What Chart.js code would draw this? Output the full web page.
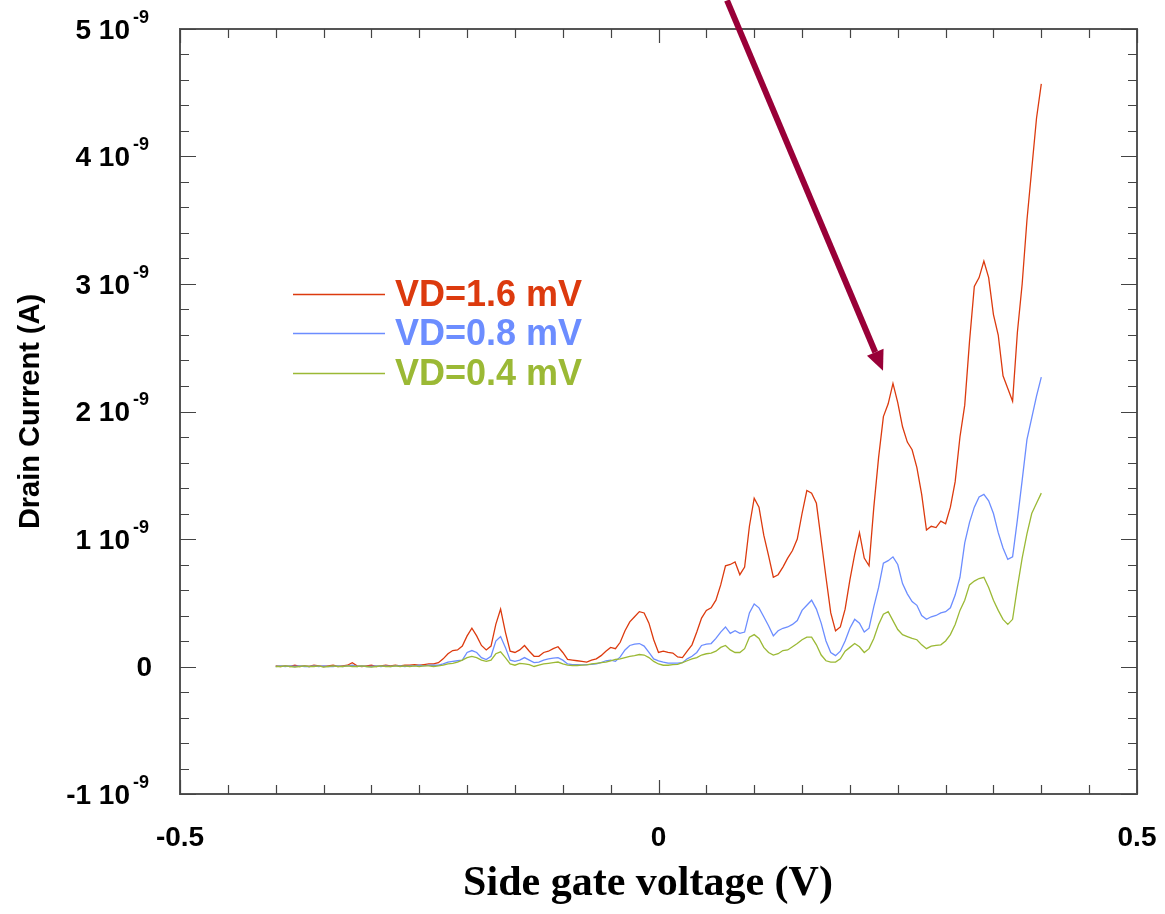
<!DOCTYPE html>
<html>
<head>
<meta charset="utf-8">
<script src="https://cdn.jsdelivr.net/npm/chart.js"></script>
<style>
    body { margin: 0; background: #ffffff; }
    #wrap { width: 1165px; height: 914px; }
</style>
</head>
<body>
<div id="wrap"><canvas id="drainChart" width="1165" height="914"></canvas></div>
<script>
// Side gate voltage (V), sweep from -0.4 to 0.4 V
const gateVoltage = [
    -0.400, -0.395, -0.390, -0.385, -0.380, -0.375, -0.370, -0.365, -0.360, -0.355,
    -0.350, -0.345, -0.340, -0.335, -0.330, -0.325, -0.320, -0.315, -0.310, -0.305,
    -0.300, -0.295, -0.290, -0.285, -0.280, -0.275, -0.270, -0.265, -0.260, -0.255,
    -0.250, -0.245, -0.240, -0.235, -0.230, -0.225, -0.220, -0.215, -0.210, -0.205,
    -0.200, -0.195, -0.190, -0.185, -0.180, -0.175, -0.170, -0.165, -0.160, -0.155,
    -0.150, -0.145, -0.140, -0.135, -0.130, -0.125, -0.120, -0.115, -0.110, -0.105,
    -0.100, -0.095, -0.090, -0.085, -0.080, -0.075, -0.070, -0.065, -0.060, -0.055,
    -0.050, -0.045, -0.040, -0.035, -0.030, -0.025, -0.020, -0.015, -0.010, -0.005,
    0.000, 0.005, 0.010, 0.015, 0.020, 0.025, 0.030, 0.035, 0.040, 0.045,
    0.050, 0.055, 0.060, 0.065, 0.070, 0.075, 0.080, 0.085, 0.090, 0.095,
    0.100, 0.105, 0.110, 0.115, 0.120, 0.125, 0.130, 0.135, 0.140, 0.145,
    0.150, 0.155, 0.160, 0.165, 0.170, 0.175, 0.180, 0.185, 0.190, 0.195,
    0.200, 0.205, 0.210, 0.215, 0.220, 0.225, 0.230, 0.235, 0.240, 0.245,
    0.250, 0.255, 0.260, 0.265, 0.270, 0.275, 0.280, 0.285, 0.290, 0.295,
    0.300, 0.305, 0.310, 0.315, 0.320, 0.325, 0.330, 0.335, 0.340, 0.345,
    0.350, 0.355, 0.360, 0.365, 0.370, 0.375, 0.380, 0.385, 0.390, 0.395,
    0.400
];

// Drain current, in units of 1e-9 A
const currentVD16 = [
    0.005, 0, 0.005, 0, 0.01, 0, 0.005, 0, 0.01, 0.005,
    0, 0.005, 0.01, 0, 0.005, 0.01, 0.03, 0.005, 0, 0.005,
    0.01, 0, 0.005, 0.01, 0.005, 0.01, 0.005, 0.01, 0.01, 0.015,
    0.01, 0.015, 0.02, 0.02,
    0.03, 0.06, 0.10, 0.125, 0.13, 0.16, 0.24, 0.30, 0.24, 0.165,
    0.13, 0.16, 0.33, 0.45, 0.27, 0.12, 0.11, 0.13, 0.165, 0.12,
    0.08, 0.08, 0.11, 0.12, 0.14, 0.155, 0.11, 0.055, 0.05, 0.045,
    0.04, 0.035, 0.05, 0.06, 0.085, 0.12, 0.15, 0.14, 0.19, 0.28,
    0.35, 0.39, 0.43, 0.42, 0.34, 0.21,
    0.11, 0.12, 0.11, 0.105, 0.075, 0.07, 0.12, 0.17, 0.27, 0.38,
    0.44, 0.46, 0.52, 0.64, 0.79, 0.80, 0.82, 0.72, 0.78, 1.10,
    1.32, 1.25, 1.03, 0.87, 0.70, 0.72, 0.78, 0.85, 0.91, 1.00,
    1.20, 1.38, 1.36, 1.28, 0.99, 0.70, 0.42, 0.28, 0.31, 0.45,
    0.68, 0.88, 1.05, 0.85, 0.79, 1.25, 1.64, 1.96, 2.06, 2.22,
    2.07, 1.88, 1.76, 1.70, 1.56, 1.35, 1.07, 1.10, 1.09, 1.14,
    1.12, 1.25, 1.45, 1.80, 2.05, 2.55, 2.98, 3.05, 3.18, 3.05,
    2.76, 2.60, 2.28, 2.18, 2.08, 2.62, 3.00, 3.50, 3.90, 4.30,
    4.57
];

const currentVD08 = [
    0, 0.005, 0, 0.005, 0, 0.005, 0, 0, 0.005, 0,
    0.005, 0, 0, 0.005, 0, 0.005, 0.01, 0, 0.005, 0,
    0, 0.005, 0, 0.005, 0, 0.005, 0.005, 0, 0.005, 0.005,
    0.01, 0.005, 0.01, 0.01,
    0.01, 0.02, 0.035, 0.04, 0.045, 0.05, 0.11, 0.125, 0.11, 0.07,
    0.055, 0.08, 0.20, 0.235, 0.15, 0.05, 0.04, 0.05, 0.07, 0.05,
    0.03, 0.035, 0.05, 0.06, 0.065, 0.07, 0.05, 0.02, 0.015, 0.015,
    0.013, 0.015, 0.016, 0.02, 0.03, 0.045, 0.05, 0.04, 0.075, 0.13,
    0.165, 0.175, 0.18, 0.16, 0.11, 0.06,
    0.045, 0.035, 0.026, 0.026, 0.026, 0.03, 0.06, 0.08, 0.11, 0.165,
    0.175, 0.18, 0.22, 0.27, 0.31, 0.26, 0.28, 0.26, 0.27, 0.42,
    0.49, 0.46, 0.39, 0.32, 0.24, 0.28, 0.30, 0.31, 0.33, 0.36,
    0.44, 0.48, 0.52, 0.45, 0.34, 0.20, 0.11, 0.085, 0.12, 0.20,
    0.30, 0.37, 0.34, 0.27, 0.30, 0.47, 0.62, 0.81, 0.83, 0.86,
    0.80, 0.65, 0.57, 0.51, 0.48, 0.40, 0.37, 0.39, 0.40, 0.42,
    0.43, 0.46, 0.56, 0.70, 0.97, 1.13, 1.25, 1.33, 1.35, 1.30,
    1.20, 1.05, 0.93, 0.84, 0.86, 1.15, 1.46, 1.78, 1.95, 2.12,
    2.27
];

const currentVD04 = [
    0, 0, 0.005, 0, -0.005, 0, 0.005, 0, 0, 0.005,
    -0.005, 0, 0.005, 0, 0, 0.005, 0, 0, 0.005, 0,
    -0.005, 0, 0.005, 0, 0, 0.005, 0, 0.005, 0, 0.005,
    0, 0.005, 0.005, 0,
    0.005, 0.01, 0.02, 0.025, 0.035, 0.05, 0.07, 0.08, 0.07, 0.05,
    0.04, 0.05, 0.10, 0.115, 0.07, 0.02, 0.01, 0.025, 0.02, 0.015,
    0, 0.01, 0.02, 0.025, 0.03, 0.035, 0.02, 0.01, 0.008, 0.008,
    0.01, 0.012, 0.02, 0.025, 0.03, 0.035, 0.045, 0.055, 0.06, 0.07,
    0.08, 0.085, 0.094, 0.09, 0.07, 0.04,
    0.02, 0.01, 0.01, 0.015, 0.016, 0.03, 0.045, 0.06, 0.07, 0.09,
    0.10, 0.105, 0.12, 0.15, 0.165, 0.13, 0.11, 0.11, 0.14, 0.23,
    0.25, 0.22, 0.15, 0.11, 0.09, 0.10, 0.125, 0.13, 0.155, 0.18,
    0.21, 0.23, 0.23, 0.17, 0.09, 0.045, 0.035, 0.035, 0.06, 0.12,
    0.15, 0.18, 0.155, 0.11, 0.14, 0.22, 0.33, 0.41, 0.43, 0.36,
    0.29, 0.25, 0.235, 0.22, 0.21, 0.17, 0.14, 0.16, 0.165, 0.17,
    0.20, 0.25, 0.33, 0.44, 0.52, 0.64, 0.67, 0.69, 0.70, 0.62,
    0.52, 0.44, 0.37, 0.33, 0.37, 0.62, 0.85, 1.04, 1.20, 1.28,
    1.36
];

const seriesNames = ['VD=1.6 mV', 'VD=0.8 mV', 'VD=0.4 mV'];
const seriesColors = ['#dc3a0e', '#6c8dff', '#9bb935'];

const xTickLabels = [-0.5, 0, 0.5];
const yTickLabels = [-1, 0, 1, 2, 3, 4, 5];   // times 10^-9

// annotation arrow, in data units (tail, head)
const arrowFrom = { x: 0.0716, y: 5.224 };
const arrowTo = { x: 0.2346, y: 2.32 };

const toPoints = ys => gateVoltage.map((x, i) => ({ x, y: ys[i] }));

const sansBold = (px) => `bold ${px}px "Liberation Sans", Arial, sans-serif`;

const decorPlugin = {
    id: 'decor',
    afterDatasetsDraw(chart) {
        const ctx = chart.ctx;
        const { left, right, top, bottom } = chart.chartArea;
        const xs = chart.scales.x;
        const ys = chart.scales.y;
        ctx.save();

        // frame
        ctx.strokeStyle = '#555';
        ctx.lineWidth = 2;
        ctx.strokeRect(left, top, right - left, bottom - top);

        // ticks pointing inward
        ctx.lineWidth = 1.2;
        ctx.strokeStyle = '#444';
        for (let i = 0; i <= 20; i++) {
            const v = -0.5 + i * 0.05;
            const px = Math.round(xs.getPixelForValue(v)) + 0.5;
            const len = (i % 10 === 0) ? 14 : 9;
            ctx.beginPath();
            ctx.moveTo(px, bottom); ctx.lineTo(px, bottom - len);
            ctx.moveTo(px, top); ctx.lineTo(px, top + len);
            ctx.stroke();
        }
        for (let i = 0; i <= 30; i++) {
            const v = -1 + i * 0.2;
            const py = Math.round(ys.getPixelForValue(v)) + 0.5;
            const len = (i % 5 === 0) ? 16 : 9;
            ctx.beginPath();
            ctx.moveTo(left, py); ctx.lineTo(left + len, py);
            ctx.moveTo(right, py); ctx.lineTo(right - len, py);
            ctx.stroke();
        }

        // tick labels
        ctx.fillStyle = '#000';
        ctx.textBaseline = 'middle';
        ctx.font = sansBold(28);
        ctx.textAlign = 'center';
        xTickLabels.forEach(v => {
            ctx.fillText(String(v), xs.getPixelForValue(v), bottom + 44);
        });
        yTickLabels.forEach(v => {
            const py = ys.getPixelForValue(v);
            ctx.font = sansBold(28);
            ctx.textAlign = 'right';
            if (v === 0) {
                ctx.fillText('0', left - 28, py + 2);
                return;
            }
            ctx.fillText(v + ' 10', left - 50, py + 2);
            ctx.font = sansBold(18);
            ctx.textAlign = 'left';
            ctx.fillText('-9', left - 47, py - 11);
        });

        // axis titles
        ctx.font = sansBold(29);
        ctx.textAlign = 'center';
        ctx.save();
        ctx.translate(31, (top + bottom) / 2);
        ctx.rotate(-Math.PI / 2);
        ctx.fillText('Drain Current (A)', 0, 0);
        ctx.restore();
        ctx.font = 'bold 42px "Liberation Serif", "Times New Roman", serif';
        ctx.fillText('Side gate voltage (V)', 648, 884);

        // legend
        const legY = [294, 333, 373];
        seriesNames.forEach((name, i) => {
            ctx.strokeStyle = seriesColors[i];
            ctx.lineWidth = 1.3;
            ctx.beginPath();
            ctx.moveTo(293, legY[i] + 0.5);
            ctx.lineTo(385, legY[i] + 0.5);
            ctx.stroke();
            ctx.fillStyle = seriesColors[i];
            ctx.font = sansBold(36);
            ctx.textAlign = 'left';
            ctx.fillText(name, 395, legY[i] + 2);
        });

        // arrow
        const x0 = xs.getPixelForValue(arrowFrom.x), y0 = ys.getPixelForValue(arrowFrom.y);
        const x1 = xs.getPixelForValue(arrowTo.x), y1 = ys.getPixelForValue(arrowTo.y);
        const ang = Math.atan2(y1 - y0, x1 - x0);
        const headLen = 20, headW = 9;
        const bx = x1 - headLen * Math.cos(ang), by = y1 - headLen * Math.sin(ang);
        ctx.strokeStyle = '#990038';
        ctx.fillStyle = '#990038';
        ctx.lineWidth = 6;
        ctx.beginPath();
        ctx.moveTo(x0, y0); ctx.lineTo(bx, by);
        ctx.stroke();
        ctx.beginPath();
        ctx.moveTo(x1, y1);
        ctx.lineTo(bx + headW * Math.sin(ang), by - headW * Math.cos(ang));
        ctx.lineTo(bx - headW * Math.sin(ang), by + headW * Math.cos(ang));
        ctx.closePath();
        ctx.fill();

        ctx.restore();
    }
};

const datasets = [currentVD04, currentVD08, currentVD16].map((ys, k) => {
    const idx = 2 - k;
    return {
        label: seriesNames[idx],
        data: toPoints(ys),
        borderColor: seriesColors[idx],
        borderWidth: 1.3,
        pointRadius: 0,
        tension: 0,
        fill: false
    };
});

new Chart(document.getElementById('drainChart').getContext('2d'), {
    type: 'line',
    data: { datasets },
    options: {
        responsive: false,
        animation: false,
        layout: { padding: { left: 180, right: 28, top: 29, bottom: 120 } },
        plugins: { legend: { display: false }, tooltip: { enabled: false } },
        scales: {
            x: { type: 'linear', min: -0.5, max: 0.5, display: false },
            y: { type: 'linear', min: -1, max: 5, display: false }
        }
    },
    plugins: [decorPlugin]
});
</script>
</body>
</html>
